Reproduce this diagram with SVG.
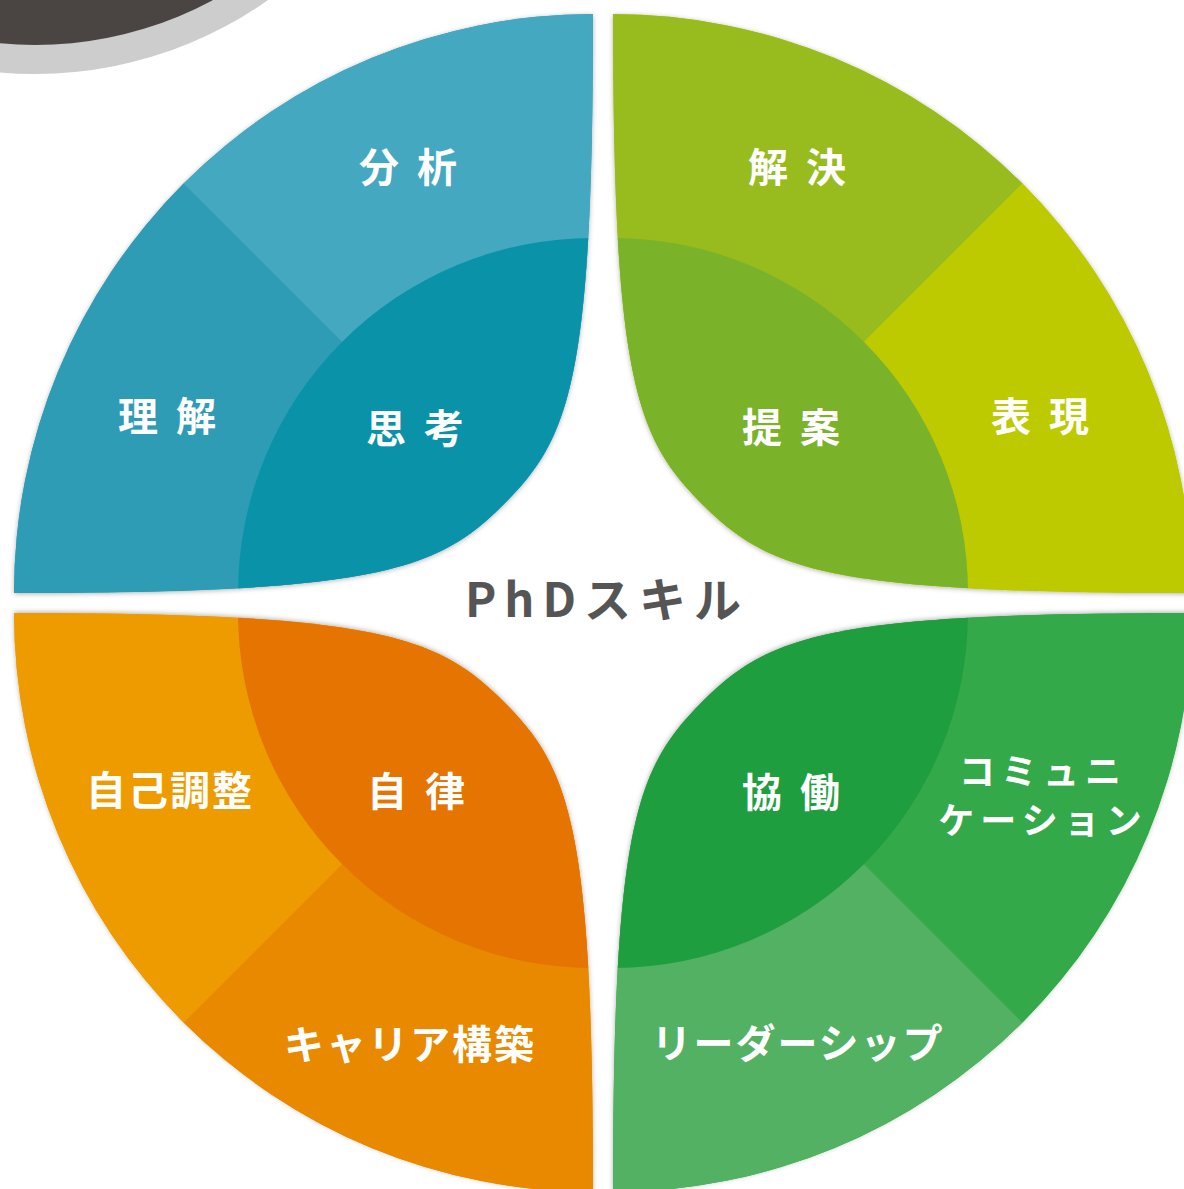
<svg xmlns="http://www.w3.org/2000/svg" width="1184" height="1189" viewBox="0 0 1184 1189">
<style>
.lbl{font-family:"Noto Sans CJK JP","Noto Sans",sans-serif;font-weight:700;font-size:40px;fill:#ffffff;text-anchor:middle}
.two{letter-spacing:18px}
.many{letter-spacing:2px}
.kata{font-size:36px;letter-spacing:6px}
.title{font-family:"Noto Sans CJK JP","Noto Sans",sans-serif;font-weight:700;font-size:47px;fill:#555555;text-anchor:middle;letter-spacing:8px}
</style>
<defs>
<filter id="sh" x="-10%" y="-10%" width="120%" height="120%">
<feDropShadow dx="0" dy="1" stdDeviation="2.5" flood-color="#000000" flood-opacity="0.3"/>
</filter>
<path id="leafShape" d="M0,-579 C0,-213 -23,-155 -89,-89 C-155,-23 -213,0 -579,0 A579,579 0 0 1 0,-579Z"/>
<clipPath id="leaf"><use href="#leafShape"/></clipPath>
<path id="wedgeA" d="M0,0 L0,-620 L-620,-620Z"/>
<path id="wedgeB" d="M0,0 L-620,-620 L-620,0Z"/>
<circle id="inner" cx="0" cy="0" r="355"/>
</defs>
<rect width="1184" height="1189" fill="#ffffff"/>
<g id="corner-disc">
<circle cx="35" cy="-330" r="404" fill="#cdcdcd"/>
<circle cx="35" cy="-330" r="375" fill="#4a4543"/>
</g>

<g id="quadrant-blue">
<g transform="translate(593,593)"><use href="#leafShape" fill="#2e9cb5" filter="url(#sh)"/></g>
<g id="node-bunseki">
<g transform="translate(593,593)"><use href="#wedgeA" fill="#44a8c1" clip-path="url(#leaf)"/></g>
</g>
<g id="node-rikai">
<g transform="translate(593,593)"><use href="#wedgeB" fill="#2e9cb5" clip-path="url(#leaf)"/></g>
</g>
<g id="node-shikou">
<g transform="translate(593,593)"><use href="#inner" fill="#0a93a8" clip-path="url(#leaf)"/></g>
</g>
<text class="lbl two" x="417" y="182">分析</text>
<text class="lbl two" x="176" y="431">理解</text>
<text class="lbl two" x="424" y="443">思考</text>
</g>

<g id="quadrant-lime">
<g transform="translate(613,593) scale(-1,1)"><use href="#leafShape" fill="#bdca00" filter="url(#sh)"/></g>
<g id="node-kaiketsu">
<g transform="translate(613,593) scale(-1,1)"><use href="#wedgeA" fill="#98bb1e" clip-path="url(#leaf)"/></g>
</g>
<g id="node-hyougen">
<g transform="translate(613,593) scale(-1,1)"><use href="#wedgeB" fill="#bdca00" clip-path="url(#leaf)"/></g>
</g>
<g id="node-teian">
<g transform="translate(613,593) scale(-1,1)"><use href="#inner" fill="#7ab22a" clip-path="url(#leaf)"/></g>
</g>
<text class="lbl two" x="806" y="182">解決</text>
<text class="lbl two" x="1049" y="431">表現</text>
<text class="lbl two" x="800" y="442">提案</text>
</g>

<g id="quadrant-orange">
<g transform="translate(593,613) scale(1,-1)"><use href="#leafShape" fill="#ee9b00" filter="url(#sh)"/></g>
<g id="node-career">
<g transform="translate(593,613) scale(1,-1)"><use href="#wedgeA" fill="#e98900" clip-path="url(#leaf)"/></g>
</g>
<g id="node-jikochousei">
<g transform="translate(593,613) scale(1,-1)"><use href="#wedgeB" fill="#ee9b00" clip-path="url(#leaf)"/></g>
</g>
<g id="node-jiritsu">
<g transform="translate(593,613) scale(1,-1)"><use href="#inner" fill="#e57400" clip-path="url(#leaf)"/></g>
</g>
<text class="lbl many" x="170" y="805">自己調整</text>
<text class="lbl two" x="425" y="806">自律</text>
<text class="lbl many" x="410" y="1059">キャリア構築</text>
</g>

<g id="quadrant-green">
<g transform="translate(613,613) scale(-1,-1)"><use href="#leafShape" fill="#34a94a" filter="url(#sh)"/></g>
<g id="node-leadership">
<g transform="translate(613,613) scale(-1,-1)"><use href="#wedgeA" fill="#52b162" clip-path="url(#leaf)"/></g>
</g>
<g id="node-communication">
<g transform="translate(613,613) scale(-1,-1)"><use href="#wedgeB" fill="#34a94a" clip-path="url(#leaf)"/></g>
</g>
<g id="node-kyoudou">
<g transform="translate(613,613) scale(-1,-1)"><use href="#inner" fill="#1f9e3f" clip-path="url(#leaf)"/></g>
</g>
<text class="lbl two" x="800" y="807">協働</text>
<text class="lbl kata" x="1043" y="785">コミュニ</text>
<text class="lbl kata" x="1043" y="834">ケーション</text>
<text class="lbl many" x="798" y="1058">リーダーシップ</text>
</g>

<g id="center-title">
<text class="title" x="607" y="617">PhDスキル</text>
</g>
<g id="connectors"/>
</svg>
